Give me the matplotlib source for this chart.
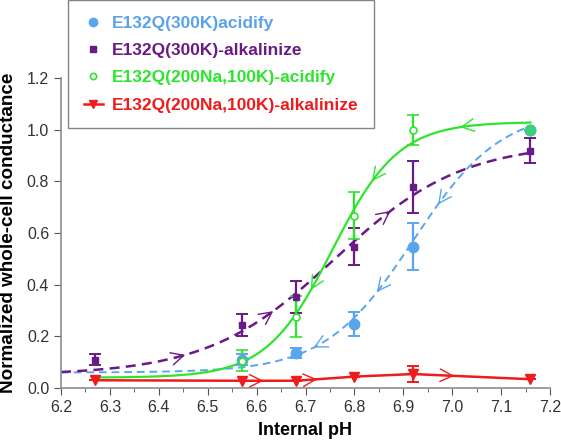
import numpy as np
import matplotlib.pyplot as plt
from matplotlib.lines import Line2D
from matplotlib.ticker import MultipleLocator

plt.rcParams['font.family'] = ['Liberation Sans', 'DejaVu Sans']

# data
ph = [6.27, 6.57, 6.68, 6.80, 6.92, 7.16]

acid_300k = [np.nan, 0.11, 0.135, 0.248, 0.547, 1.0]
acid_300k_err = [np.nan, 0.02, 0.02, 0.048, 0.09, 0.0]

alk_300k = [0.11, 0.244, 0.353, 0.547, 0.778, 0.919]
alk_300k_err = [0.02, 0.044, 0.062, 0.071, 0.1, 0.048]

acid_na = [np.nan, 0.106, 0.276, 0.667, 0.999, 1.0]
acid_na_err = [np.nan, 0.04, 0.08, 0.09, 0.058, 0.0]

alk_na = [0.03, 0.028, 0.028, 0.044, 0.054, 0.034]
alk_na_err = [0.0, 0.0, 0.0, 0.0, 0.03, 0.0]

# Boltzmann fits: base, top, half-point pH, slope
fit_acid_300k = (0.06, 1.08, 6.92, 0.09)
fit_alk_300k = (0.05, 0.95, 6.76, 0.13)
fit_acid_na = (0.04, 1.03, 6.755, 0.0676)

# arrow positions (pH) along each curve
arrows_acid_300k = [6.72, 6.85, 6.975]
arrows_alk_300k = [6.45, 6.63, 6.87]
arrows_acid_na = [6.715, 6.84, 7.02]
arrows_alk_na = [6.61, 6.72, 7.0]

labels = ['E132Q(300K)acidify', 'E132Q(300K)-alkalinize',
          'E132Q(200Na,100K)-acidify', 'E132Q(200Na,100K)-alkalinize']

c_blue = '#5aa6ee'
c_purple = '#6a1a86'
c_green = '#2ee52e'
c_red = '#ee1c1c'


def boltz(x, p):
    base, top, xh, k = p
    return base + (top - base) / (1 + np.exp((xh - x) / k))


def arrows(ax, xs, f, color, direction):
    for x in xs:
        dx = 0.004 * direction
        ax.annotate('', xy=(x + dx, f(x + dx)), xytext=(x, f(x)),
                    arrowprops=dict(arrowstyle='->,head_length=0.9,head_width=0.45',
                                    color=color, lw=1.0, shrinkA=0, shrinkB=0))


fig = plt.figure(figsize=(5.61, 4.4), dpi=100)
ax = fig.add_axes([61 / 561, 1 - 388 / 440, 489 / 561, 310 / 440])

# fitted curves
xs = np.linspace(6.2, 7.16, 300)
ax.plot(xs, boltz(xs, fit_acid_300k), '--', color=c_blue, lw=1.4, dashes=(4, 2.5))
ax.plot(xs, boltz(xs, fit_alk_300k), '--', color=c_purple, lw=1.8, dashes=(4, 2.5))
xg = np.linspace(6.27, 7.16, 300)
ax.plot(xg, boltz(xg, fit_acid_na), '-', color=c_green, lw=1.6)
ax.plot(ph, alk_na, '-', color=c_red, lw=1.8)

arrows(ax, arrows_acid_300k, lambda x: boltz(x, fit_acid_300k), c_blue, -1)
arrows(ax, arrows_alk_300k, lambda x: boltz(x, fit_alk_300k), c_purple, 1)
arrows(ax, arrows_acid_na, lambda x: boltz(x, fit_acid_na), c_green, -1)
arrows(ax, arrows_alk_na, lambda x: np.interp(x, ph, alk_na), c_red, 1)

# points with error bars
eb = dict(ls='none', capsize=4, elinewidth=1.6, capthick=1.4)
ax.errorbar(ph, acid_300k, yerr=acid_300k_err, fmt='o', ms=7.5, color=c_blue, **eb)
ax.errorbar(ph, alk_300k, yerr=alk_300k_err, fmt='s', ms=4.5, color=c_purple, **eb)
ax.errorbar(ph[:-1], acid_na[:-1], yerr=acid_na_err[:-1], fmt='o', ms=5,
            color=c_green, mfc='white', mew=1.2, **eb)
ax.errorbar(ph, alk_na, yerr=alk_na_err, fmt='v', ms=7, color=c_red, **eb)
# last acidify point where both acidify series meet
ax.plot(ph[-1], acid_na[-1], 'o', ms=7.5, color='#3ccf7c', zorder=5)

ax.set_xlim(6.2, 7.2)
ax.set_ylim(0, 1.2)
ax.xaxis.set_major_locator(MultipleLocator(0.1))
ax.xaxis.set_minor_locator(MultipleLocator(0.05))
ax.yaxis.set_major_locator(MultipleLocator(0.2))
ax.xaxis.set_major_formatter(plt.FormatStrFormatter('%.1f'))
ax.yaxis.set_major_formatter(plt.FormatStrFormatter('%.1f'))
for s in ['top', 'right']:
    ax.spines[s].set_visible(False)
for s in ['left', 'bottom']:
    ax.spines[s].set_color('#8c8c8c')
    ax.spines[s].set_linewidth(1.2)
ax.tick_params(which='both', direction='out', color='#555555', labelsize=11.5,
               labelcolor='#333333')
ax.tick_params(which='major', length=5)
ax.tick_params(which='minor', length=3)
ax.set_xlabel('Internal pH', fontsize=13, fontweight='bold', labelpad=5)
ax.set_ylabel('Normalized whole-cell conductance', fontsize=13.6, fontweight='bold',
              labelpad=7)

handles = [
    Line2D([], [], ls='none', marker='o', ms=6, color=c_blue),
    Line2D([], [], ls='none', marker='s', ms=4, color=c_purple),
    Line2D([], [], ls='none', marker='o', ms=4.5, color=c_green, mfc='white', mew=1.2),
    Line2D([], [], ls='-', lw=1.8, marker='v', ms=6, color=c_red),
]
leg = fig.legend(handles, labels, loc='upper left', bbox_to_anchor=(68 / 561, 1.0),
                 borderaxespad=0, fontsize=12.5, frameon=True, fancybox=False,
                 handlelength=1.1, handletextpad=0.5, labelspacing=0.7,
                 borderpad=0.9)
leg.get_frame().set_edgecolor('#666666')
leg.get_frame().set_linewidth(1.0)
for t, c in zip(leg.get_texts(), ['#5ba3e8', c_purple, c_green, c_red]):
    t.set_color(c)
    t.set_fontweight('bold')

fig.savefig('out.png', dpi=100)
